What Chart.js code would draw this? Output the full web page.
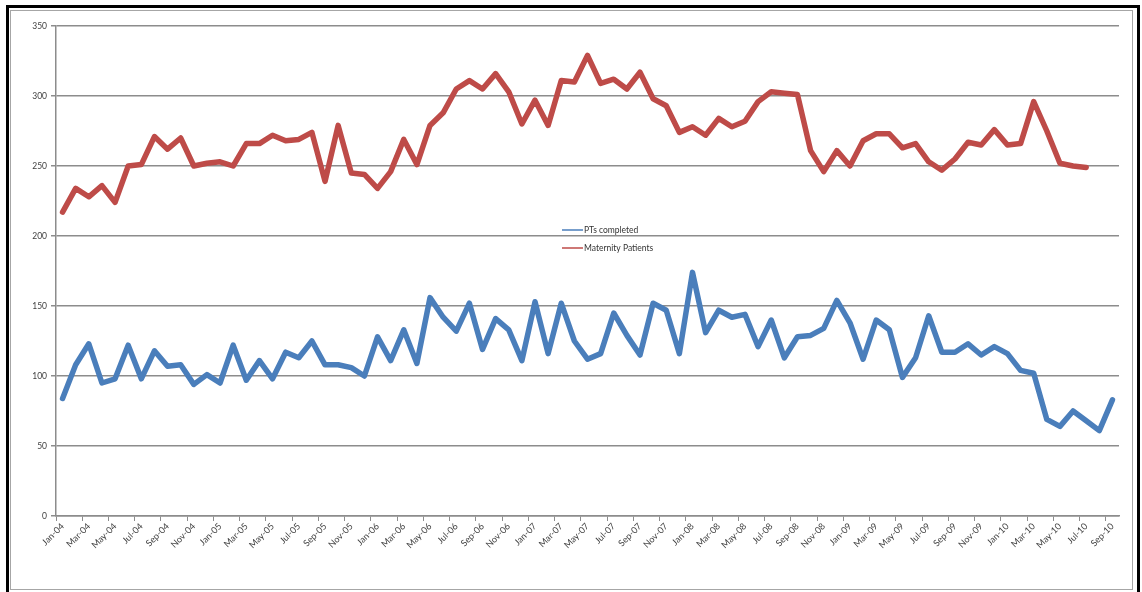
<!DOCTYPE html>
<html>
<head>
<meta charset="utf-8">
<script src="https://cdn.jsdelivr.net/npm/chart.js@4.4.1/dist/chart.umd.min.js"></script>
<style>
  html, body { margin: 0; padding: 0; background: #fff; overflow: hidden; }
  #wrap { position: relative; width: 1142px; height: 592px; }
  #outer { position: absolute; left: 6px; top: 5px; width: 1128px; height: 600px; border: 3px solid #000; pointer-events: none; }
  #inner { position: absolute; left: 10px; top: 10px; width: 1121px; height: 578px; border: 1.5px solid #a6a6a6; pointer-events: none; }
  canvas { position: absolute; left: 0; top: 0; }
</style>
</head>
<body>
<div id="wrap">
  <canvas id="chart" width="1142" height="592"></canvas>
  <div id="outer"></div>
  <div id="inner"></div>
</div>
<script>
// month categories, Jan-04 .. Sep-10
const months = [
  'Jan-04','Feb-04','Mar-04','Apr-04','May-04','Jun-04','Jul-04','Aug-04','Sep-04','Oct-04','Nov-04','Dec-04',
  'Jan-05','Feb-05','Mar-05','Apr-05','May-05','Jun-05','Jul-05','Aug-05','Sep-05','Oct-05','Nov-05','Dec-05',
  'Jan-06','Feb-06','Mar-06','Apr-06','May-06','Jun-06','Jul-06','Aug-06','Sep-06','Oct-06','Nov-06','Dec-06',
  'Jan-07','Feb-07','Mar-07','Apr-07','May-07','Jun-07','Jul-07','Aug-07','Sep-07','Oct-07','Nov-07','Dec-07',
  'Jan-08','Feb-08','Mar-08','Apr-08','May-08','Jun-08','Jul-08','Aug-08','Sep-08','Oct-08','Nov-08','Dec-08',
  'Jan-09','Feb-09','Mar-09','Apr-09','May-09','Jun-09','Jul-09','Aug-09','Sep-09','Oct-09','Nov-09','Dec-09',
  'Jan-10','Feb-10','Mar-10','Apr-10','May-10','Jun-10','Jul-10','Aug-10','Sep-10'
];

const ptsCompleted = [
  84,108,123,95,98,122,98,118,107,108,
  94,101,95,122,97,111,98,117,113,125,
  108,108,106,100,128,111,133,109,156,142,
  132,152,119,141,133,111,153,116,152,125,
  112,116,145,129,115,152,147,116,174,131,
  147,142,144,121,140,113,128,129,134,154,
  138,112,140,133,99,113,143,117,117,123,
  115,121,116,104,102,69,64,75,68,61,83
];

// no values for Aug-10 and Sep-10
const maternityPatients = [
  217,234,228,236,224,250,251,271,262,270,
  250,252,253,250,266,266,272,268,269,274,
  239,279,245,244,234,246,269,251,279,288,
  305,311,305,316,303,280,297,279,311,310,
  329,309,312,305,317,298,293,274,278,272,
  284,278,282,296,303,302,301,261,246,261,
  250,268,273,273,263,266,253,247,255,267,
  265,276,265,266,296,275,252,250,249,null,null
];

const yTicks = [0, 50, 100, 150, 200, 250, 300, 350];

const BLUE = '#4a7ebb';
const RED = '#be4b48';
const GRID = '#8c8c8c';
const FONT = 'Lato, "Open Sans", sans-serif';

// legend drawn inside the plot, like the original sheet
const midLegend = {
  id: 'midLegend',
  afterDraw(chart) {
    const ctx = chart.ctx;
    const area = chart.chartArea;
    const x = area.left + (area.right - area.left) * 0.476;
    const items = [
      { text: 'PTs completed', color: BLUE, y: area.top + 204 },
      { text: 'Maternity Patients', color: RED, y: area.top + 222 }
    ];
    ctx.save();
    ctx.font = '8.5px ' + FONT;
    ctx.textBaseline = 'middle';
    for (const it of items) {
      ctx.strokeStyle = it.color; ctx.lineWidth = 1.5;
      ctx.beginPath(); ctx.moveTo(x, it.y); ctx.lineTo(x + 21, it.y); ctx.stroke();
      ctx.fillStyle = '#333';
      ctx.fillText(it.text, x + 22, it.y);
    }
    ctx.restore();
  }
};

new Chart(document.getElementById('chart').getContext('2d'), {
  type: 'line',
  data: {
    labels: months,
    datasets: [
      { label: 'PTs completed', data: ptsCompleted, borderColor: BLUE, borderWidth: 5.5, pointRadius: 0, tension: 0, borderJoinStyle: 'round', borderCapStyle: 'round', spanGaps: false },
      { label: 'Maternity Patients', data: maternityPatients, borderColor: RED, borderWidth: 5.5, pointRadius: 0, tension: 0, borderJoinStyle: 'round', borderCapStyle: 'round', spanGaps: false }
    ]
  },
  options: {
    responsive: false,
    animation: false,
    layout: { padding: { top: 26, right: 23, left: 0, bottom: 0 } },
    plugins: { legend: { display: false }, tooltip: { enabled: false } },
    scales: {
      x: {
        offset: true,
        grid: {
          offset: true, drawOnChartArea: false, tickLength: 5,
          color: c => (c.index % 2 === 0 ? GRID : 'rgba(0,0,0,0)')
        },
        border: { color: GRID, width: 1.5 },
        ticks: {
          autoSkip: false, minRotation: 45, maxRotation: 45, padding: 0,
          color: '#404040', font: { family: FONT, size: 9 },
          callback: (v, i) => (i % 2 === 0 ? months[i] : '')
        },
        afterFit: s => { s.height = 76; }
      },
      y: {
        min: 0, max: 350,
        afterBuildTicks: s => { s.ticks = yTicks.map(v => ({ value: v })); },
        grid: { color: GRID, lineWidth: 1.5, tickLength: 5 },
        border: { color: GRID, width: 1.5 },
        ticks: { padding: 4, color: '#404040', font: { family: FONT, size: 8.5 } },
        afterFit: s => { s.width = 56; }
      }
    }
  },
  plugins: [midLegend]
});
</script>
</body>
</html>
